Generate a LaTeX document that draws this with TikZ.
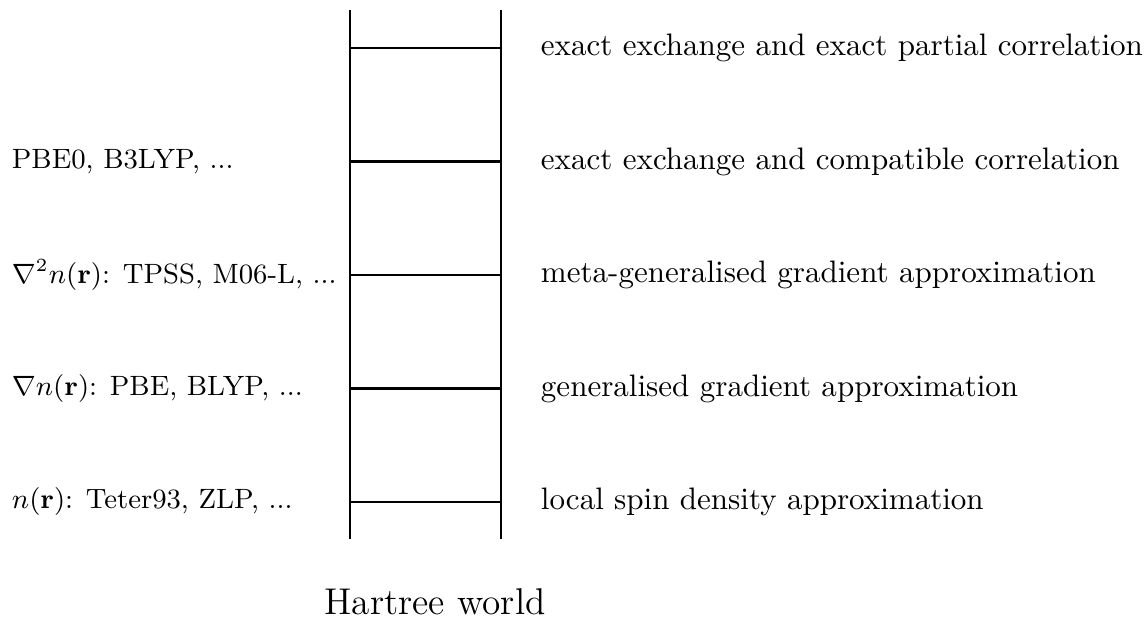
\documentclass[tikz,border=0pt]{standalone}
\usepackage{amsmath}
\begin{document}
\begin{tikzpicture}[x=0.3222pt,y=-0.3222pt,
  rail/.style={line width=0.65pt},
  rung/.style={line width=0.65pt},
  leftlabel/.style={anchor=west,font=\small},
  rightlabel/.style={anchor=west}]
  \useasboundingbox (0,0) rectangle (1146,617);
  % rails of the ladder
  \coordinate (lt) at (350,10);
  \coordinate (lb) at (350,539);
  \coordinate (rt) at (501,10);
  \coordinate (rb) at (501,539);
  \draw[rail] (lt) -- (lb);
  \draw[rail] (rt) -- (rb);
  % rungs, bottom to top
  \foreach \i/\y in {1/502,2/388.5,3/275,4/161.5,5/48}{
    \coordinate (a\i) at (350,\y);
    \coordinate (b\i) at (501,\y);
    \draw[rung] (a\i) -- (b\i);
  }
  % descriptions of each rung
  \node[rightlabel] (r1) at (530,502) {local spin density approximation};
  \node[rightlabel] (r2) at (530,388.5) {generalised gradient approximation};
  \node[rightlabel] (r3) at (530,275) {meta-generalised gradient approximation};
  \node[rightlabel] (r4) at (530,161.5) {exact exchange and compatible correlation};
  \node[rightlabel] (r5) at (530,48) {exact exchange and exact partial correlation};
  % ingredients and example functionals
  \node[leftlabel] (l1) at (1,502) {$n(\mathbf{r})$: Teter93, ZLP, ...};
  \node[leftlabel] (l2) at (1,388.5) {$\nabla n(\mathbf{r})$: PBE, BLYP, ...};
  \node[leftlabel] (l3) at (1,275) {$\nabla^2 n(\mathbf{r})$: TPSS, M06-L, ...};
  \node[leftlabel] (l4) at (1,161.5) {PBE0, B3LYP, ...};
  % ground floor
  \node[anchor=base,font=\large,inner sep=0pt] (hw) at (435,614) {Hartree world};
\end{tikzpicture}
\end{document}
